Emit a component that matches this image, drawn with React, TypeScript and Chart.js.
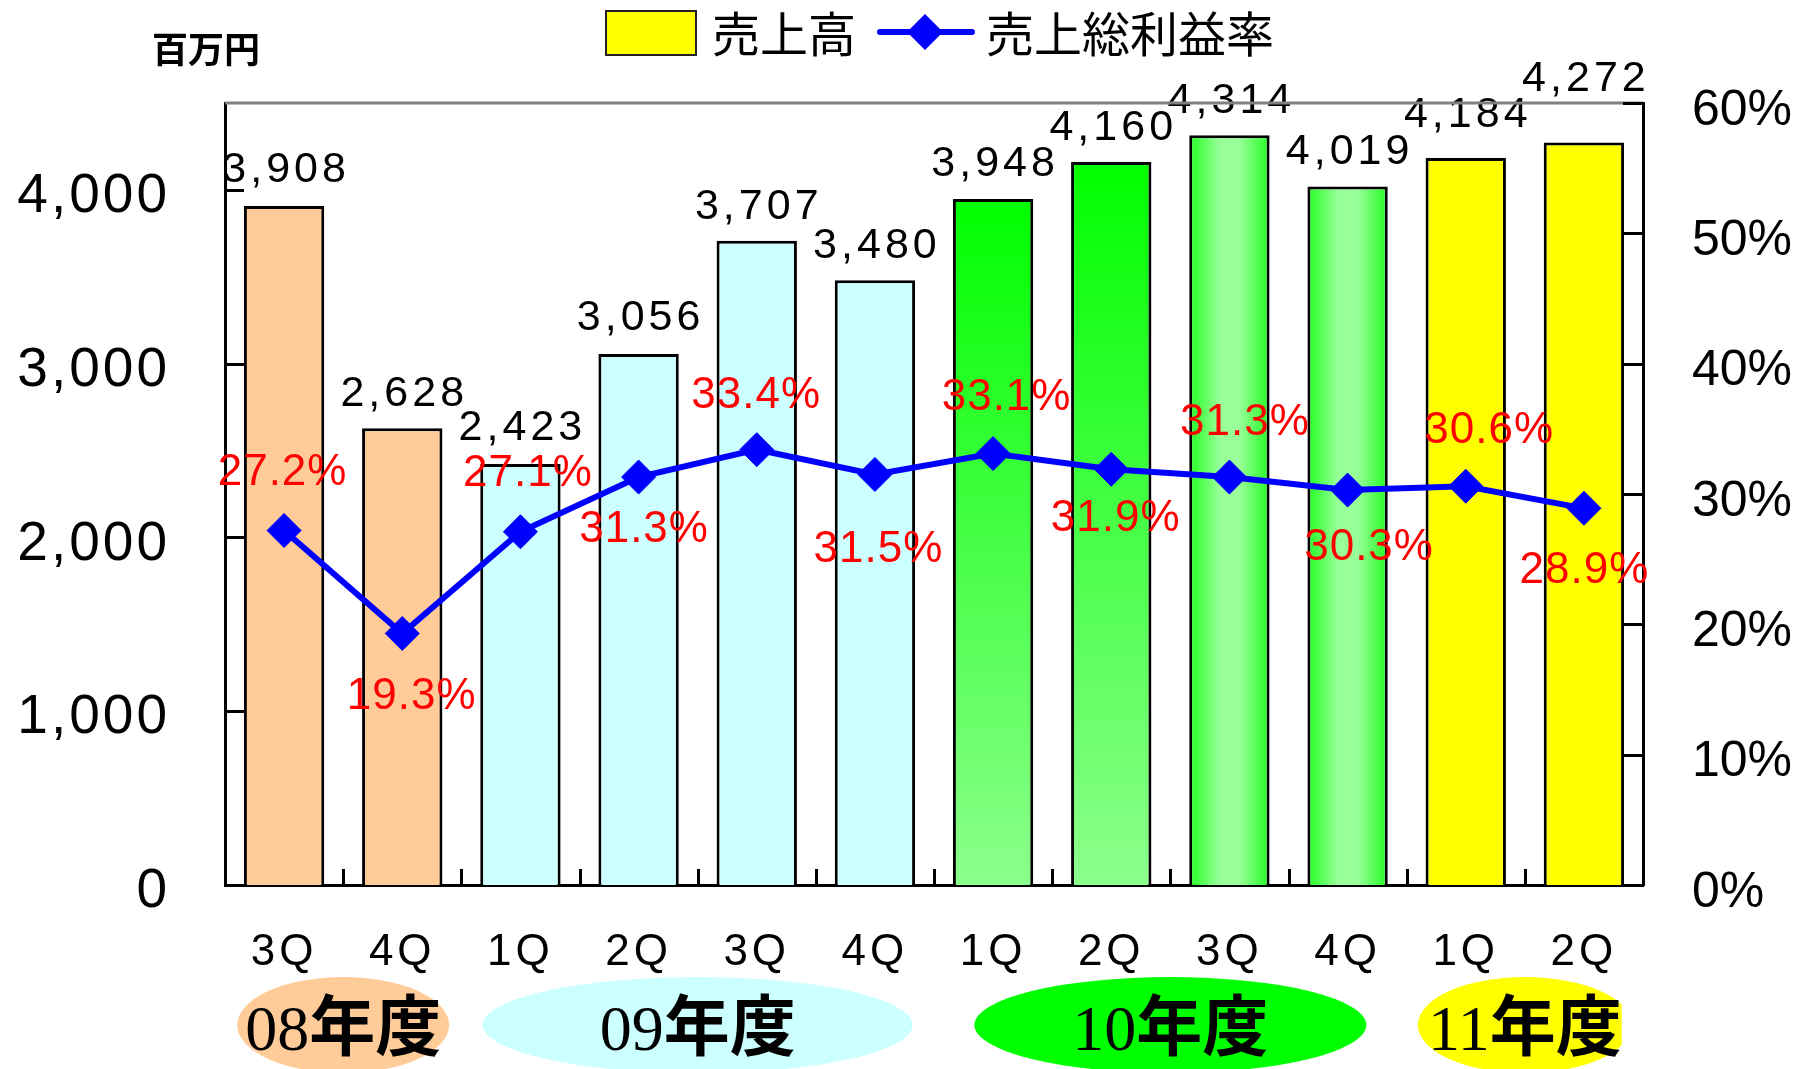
import React, { useEffect, useRef } from 'react';
import { Chart, registerables } from 'chart.js';

Chart.register(...registerables);

// ---- data ----
const quarters = ['3Q', '4Q', '1Q', '2Q', '3Q', '4Q', '1Q', '2Q', '3Q', '4Q', '1Q', '2Q'];
const sales = [3908, 2628, 2423, 3056, 3707, 3480, 3948, 4160, 4314, 4019, 4184, 4272];
const grossMargin = [27.2, 19.3, 27.1, 31.3, 33.4, 31.5, 33.1, 31.9, 31.3, 30.3, 30.6, 28.9];
const fiscalYears = ['08', '09', '10', '11'];
const fiscalFirst = [0, 2, 6, 10];
const fiscalLast = [1, 5, 9, 11];
const salesTicks = [0, 1000, 2000, 3000, 4000];
const marginTicks = [0, 10, 20, 30, 40, 50, 60];
const salesMax = 4500;
const marginMax = 60;
const unitLabel = '百万円';
const salesName = '売上高';
const marginName = '売上総利益率';

// ---- styling / layout (not data) ----
const barFill = ['peach', 'peach', 'cyan', 'cyan', 'cyan', 'cyan', 'greenV', 'greenV', 'greenH', 'greenH', 'yellow', 'yellow'];
const fiscalColors = ['#FFCC99', '#CCFFFF', '#00FF00', '#FFFF00'];
const fiscalRx = [106, 215, 196, 107];
const salesLabelLift = [36, 34, 36, 36, 34, 34, 35, 34, 34, 34, 43, 63];
const marginLabelDx = [-2, 9, 7, 5, -1, 3, 13, 4, 15, 21, 23, 0];
const marginLabelDy = [-58, 63, -58, 53, -54, 75, -56, 50, -54, 58, -55, 63];

const SANS = '"Liberation Sans", Arial, sans-serif';
const CJK = '"Noto Sans CJK JP", "Noto Sans CJK SC", sans-serif';
const SERIF = '"Liberation Serif", "Times New Roman", serif';

function drawSpaced(ctx: any, text: string, x: number, y: number, spacing: number, align: 'center' | 'left' | 'right') {
  ctx.save();
  ctx.letterSpacing = spacing + 'px';
  const w = ctx.measureText(text).width - spacing;
  let sx = x;
  if (align === 'center') sx = x - w / 2;
  else if (align === 'right') sx = x - w;
  ctx.textAlign = 'left';
  ctx.fillText(text, sx, y);
  ctx.restore();
}

const spacingPlugin = {
  id: 'scaleSpacing',
  beforeDraw(chart: any) {
    const sp: Record<string, string> = { x: '4px', y: '3px', y2: '0px' };
    const dy: Record<string, number> = { x: 3, y: 7, y2: 8 };
    Object.values(chart.scales).forEach((s: any) => {
      if (s.__patched) return;
      const orig = s.drawLabels.bind(s);
      s.drawLabels = (ca: any) => {
        const ctx = s.ctx;
        ctx.save();
        ctx.letterSpacing = sp[s.id] || '0px';
        ctx.translate(0, dy[s.id] || 0);
        orig(ca);
        ctx.restore();
      };
      s.__patched = true;
    });
  },
};

const decorPlugin = {
  id: 'decor',
  afterDatasetsDraw(chart: any) {
    const ctx = chart.ctx;
    const barMeta = chart.getDatasetMeta(0);
    const lineMeta = chart.getDatasetMeta(1);
    ctx.save();
    ctx.textBaseline = 'middle';
    ctx.fillStyle = '#000000';
    ctx.font = '43px ' + SANS;
    barMeta.data.forEach((el: any, i: number) => {
      drawSpaced(ctx, sales[i].toLocaleString('en-US'), el.x, el.y - salesLabelLift[i], 4, 'center');
    });
    ctx.fillStyle = '#FF0000';
    ctx.font = '44px ' + SANS;
    lineMeta.data.forEach((el: any, i: number) => {
      drawSpaced(ctx, grossMargin[i].toFixed(1) + '%', el.x + marginLabelDx[i], el.y + marginLabelDy[i], 1, 'center');
    });
    ctx.restore();
  },
  afterDraw(chart: any) {
    const ctx = chart.ctx;
    const ca = chart.chartArea;
    const xs = chart.scales.x;
    const ys = chart.scales.y;
    const y2 = chart.scales.y2;
    ctx.save();
    ctx.strokeStyle = '#808080';
    ctx.lineWidth = 3;
    ctx.beginPath();
    ctx.moveTo(ca.left, ca.top);
    ctx.lineTo(ca.right, ca.top);
    ctx.stroke();
    ctx.strokeStyle = '#000000';
    ctx.lineWidth = 3;
    ctx.beginPath();
    salesTicks.forEach((v) => {
      if (v === 0) return;
      const py = Math.round(ys.getPixelForValue(v)) + 0.5;
      ctx.moveTo(ca.left, py);
      ctx.lineTo(ca.left + 19, py);
    });
    marginTicks.forEach((v) => {
      if (v === 0) return;
      const py = Math.round(y2.getPixelForValue(v)) + 0.5;
      ctx.moveTo(ca.right, py);
      ctx.lineTo(ca.right - 20, py);
    });
    for (let i = 1; i < quarters.length; i++) {
      const px = Math.round((xs.getPixelForValue(i - 1) + xs.getPixelForValue(i)) / 2) + 0.5;
      ctx.moveTo(px, ca.bottom);
      ctx.lineTo(px, ca.bottom - 16);
    }
    ctx.stroke();
    fiscalYears.forEach((fy, k) => {
      const l = xs.getPixelForValue(fiscalFirst[k]);
      const r = xs.getPixelForValue(fiscalLast[k]);
      const cx = (l + r) / 2;
      const cy = 1025;
      ctx.font = '64px ' + SERIF;
      const w1 = ctx.measureText(fy).width;
      ctx.font = 'bold 66px ' + CJK;
      const w2 = ctx.measureText('年度').width;
      const tw = w1 + w2;
      const sx = cx - tw / 2;
      ctx.save();
      if (k === fiscalYears.length - 1) {
        ctx.beginPath();
        ctx.rect(0, 0, sx + tw, 1069);
        ctx.clip();
      }
      ctx.fillStyle = fiscalColors[k];
      ctx.beginPath();
      ctx.ellipse(cx, cy, fiscalRx[k], 48, 0, 0, Math.PI * 2);
      ctx.fill();
      ctx.restore();
      ctx.fillStyle = '#000000';
      ctx.textBaseline = 'alphabetic';
      ctx.textAlign = 'left';
      ctx.font = '64px ' + SERIF;
      ctx.fillText(fy, sx, 1050);
      ctx.font = 'bold 66px ' + CJK;
      ctx.fillText('年度', sx + w1, 1050);
    });
    ctx.fillStyle = '#000000';
    ctx.font = 'bold 36px ' + CJK;
    ctx.textAlign = 'center';
    ctx.textBaseline = 'middle';
    ctx.fillText(unitLabel, 206, 49);
    ctx.fillStyle = '#FFFF00';
    ctx.fillRect(606, 11, 90, 44);
    ctx.strokeStyle = '#222222';
    ctx.lineWidth = 2;
    ctx.strokeRect(606, 11, 90, 44);
    ctx.fillStyle = '#000000';
    ctx.font = '48px ' + CJK;
    ctx.textAlign = 'left';
    ctx.textBaseline = 'middle';
    ctx.fillText(salesName, 712, 34);
    ctx.strokeStyle = '#0000FF';
    ctx.lineWidth = 6;
    ctx.lineCap = 'round';
    ctx.beginPath();
    ctx.moveTo(880, 32);
    ctx.lineTo(972, 32);
    ctx.stroke();
    ctx.fillStyle = '#0000FF';
    ctx.beginPath();
    ctx.moveTo(925, 14);
    ctx.lineTo(943, 32);
    ctx.lineTo(925, 50);
    ctx.lineTo(907, 32);
    ctx.closePath();
    ctx.fill();
    ctx.fillStyle = '#000000';
    ctx.fillText(marginName, 986, 34);
    ctx.restore();
  },
};

export default function App() {
  const ref = useRef<HTMLCanvasElement | null>(null);
  useEffect(() => {
    document.body.style.margin = '0';
    const canvas = ref.current;
    if (!canvas) return;
    const chart = new Chart(canvas, {
      data: {
        labels: quarters,
        datasets: [
          {
            type: 'bar',
            label: salesName,
            data: sales,
            yAxisID: 'y',
            order: 1,
            categoryPercentage: 1,
            barPercentage: 0.68,
            borderColor: '#000000',
            borderWidth: 3,
            borderSkipped: 'bottom',
            backgroundColor: (c: any) => {
              const i = c.dataIndex;
              const kind = barFill[i];
              if (kind === 'peach') return '#FFCC99';
              if (kind === 'cyan') return '#CCFFFF';
              if (kind === 'yellow') return '#FFFF00';
              const chart = c.chart;
              const ca = chart.chartArea;
              if (!ca || !chart.scales.x || !chart.scales.y) return '#44FF44';
              const ctx = chart.ctx;
              if (kind === 'greenV') {
                const top = chart.scales.y.getPixelForValue(sales[i]);
                const g = ctx.createLinearGradient(0, top, 0, ca.bottom);
                g.addColorStop(0, '#00FF00');
                g.addColorStop(1, '#8CFF8C');
                return g;
              }
              const xs = chart.scales.x;
              const cx = xs.getPixelForValue(i);
              const hw = (xs.width / quarters.length) * 0.68 / 2;
              const g = ctx.createLinearGradient(cx - hw, 0, cx + hw, 0);
              g.addColorStop(0, '#22FF22');
              g.addColorStop(0.38, '#99FF99');
              g.addColorStop(0.62, '#99FF99');
              g.addColorStop(1, '#22FF22');
              return g;
            },
          },
          {
            type: 'line',
            label: marginName,
            data: grossMargin,
            yAxisID: 'y2',
            order: 0,
            borderColor: '#0000FF',
            borderWidth: 6,
            tension: 0,
            pointStyle: 'rectRot',
            pointRadius: 17,
            pointBackgroundColor: '#0000FF',
            pointBorderColor: '#0000FF',
            pointBorderWidth: 1,
          },
        ],
      } as any,
      options: {
        responsive: false,
        animation: false,
        devicePixelRatio: 1,
        layout: { padding: { top: 103, left: 0, right: 0, bottom: 0 } },
        plugins: { legend: { display: false }, tooltip: { enabled: false } },
        scales: {
          x: {
            type: 'category',
            offset: true,
            grid: { display: false, drawTicks: false },
            border: { display: true, color: '#000000', width: 3 },
            ticks: {
              color: '#000000',
              font: { family: SANS, size: 44, lineHeight: 1.2 },
              padding: 38,
              maxRotation: 0,
              autoSkip: false,
            },
            afterFit: (s: any) => { s.height = 184; },
          },
          y: {
            position: 'left',
            min: 0,
            max: salesMax,
            grid: { display: false, drawTicks: false },
            border: { display: true, color: '#000000', width: 3 },
            ticks: {
              color: '#000000',
              font: { family: SANS, size: 55 },
              padding: 55,
              callback: (v: any) => Number(v).toLocaleString('en-US'),
            },
            afterBuildTicks: (s: any) => { s.ticks = salesTicks.map((v) => ({ value: v })); },
            afterFit: (s: any) => { s.width = 225; },
          },
          y2: {
            position: 'right',
            min: 0,
            max: marginMax,
            grid: { display: false, drawTicks: false },
            border: { display: true, color: '#000000', width: 3 },
            ticks: {
              color: '#000000',
              font: { family: SANS, size: 50 },
              padding: 49,
              callback: (v: any) => v + '%',
            },
            afterBuildTicks: (s: any) => { s.ticks = marginTicks.map((v) => ({ value: v })); },
            afterFit: (s: any) => { s.width = 167; },
          },
        },
      } as any,
      plugins: [spacingPlugin, decorPlugin],
    });
    return () => chart.destroy();
  }, []);
  return (
    <div style={{ position: 'absolute', left: 0, top: 0, width: 1810, height: 1069, background: '#ffffff' }}>
      <canvas ref={ref} width={1810} height={1069} style={{ width: 1810, height: 1069, display: 'block' }} />
    </div>
  );
}
